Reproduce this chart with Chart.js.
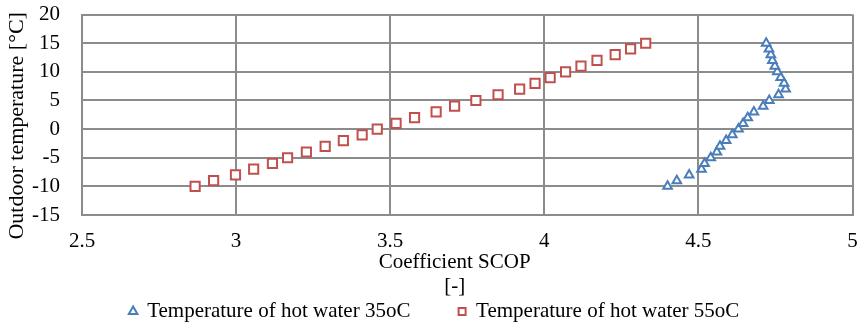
<!DOCTYPE html>
<html>
<head>
<meta charset="utf-8">
<script src="https://cdn.jsdelivr.net/npm/chart.js@4/dist/chart.umd.min.js"></script>
<style>
  html, body { margin: 0; padding: 0; background: #fff; }
  #wrap { width: 861px; height: 326px; }
</style>
</head>
<body>
<div id="wrap"><canvas id="myChart" width="861" height="326"></canvas></div>
<script>
// outdoor temperatures, same for both series
const temps = [-10, -9, -8, -7, -6, -5, -4, -3, -2, -1, 0, 1, 2, 3, 4, 5, 6, 7, 8, 9, 10, 11, 12, 13, 14, 15];
const scop35 = [4.40, 4.43, 4.47, 4.51, 4.52, 4.54, 4.56, 4.57, 4.59, 4.61, 4.63, 4.645, 4.66, 4.68, 4.71, 4.73, 4.76, 4.783, 4.778, 4.767, 4.756, 4.748, 4.74, 4.735, 4.729, 4.72];
const scop55 = [2.867, 2.927, 2.998, 3.057, 3.118, 3.167, 3.228, 3.289, 3.348, 3.409, 3.458, 3.519, 3.579, 3.649, 3.709, 3.778, 3.85, 3.92, 3.97, 4.019, 4.069, 4.119, 4.171, 4.23, 4.28, 4.329];
const labels = ['Temperature of hot water 35oC', 'Temperature of hot water 55oC'];
const xRange = [2.5, 5, 0.5];   // min, max, step
const yRange = [-15, 20, 5];

const serif = 'Liberation Serif, Times New Roman, serif';
const fontSize = 21;
const gridColor = '#8c8c8c';

const toPoints = (xs) => xs.map((x, i) => ({ x: x, y: temps[i] }));

const ctx = document.getElementById('myChart').getContext('2d');
const myChart = new Chart(ctx, {
    type: 'scatter',
    data: {
        datasets: [{
            label: labels[0],
            data: toPoints(scop35),
            pointStyle: 'triangle',
            pointRadius: 5,
            pointHoverRadius: 5,
            backgroundColor: '#ffffff',
            borderColor: '#4a7ebb',
            borderWidth: 2
        }, {
            label: labels[1],
            data: toPoints(scop55),
            pointStyle: 'rect',
            pointRadius: 6.5,
            pointHoverRadius: 6.5,
            backgroundColor: '#ffffff',
            borderColor: '#c0504d',
            borderWidth: 2
        }]
    },
    options: {
        responsive: false,
        animation: false,
        layout: {
            // left padding shifts the legend right; the y axis width below compensates
            padding: { left: 16, right: 8, top: 14, bottom: -6 }
        },
        scales: {
            x: {
                min: xRange[0],
                max: xRange[1],
                afterFit: (s) => { s.height = 84; },
                border: { display: true, color: gridColor, width: 2 },
                // invisible tick marks push the labels down without inflating layout padding
                grid: { color: gridColor, lineWidth: 2, drawTicks: true, tickLength: 12, tickColor: 'rgba(0,0,0,0)' },
                ticks: {
                    stepSize: xRange[2],
                    autoSkip: false,
                    maxRotation: 0,
                    padding: 2,
                    color: '#000',
                    font: { family: serif, size: fontSize },
                    callback: (v) => String(v)
                },
                title: {
                    display: true,
                    // trailing spaces nudge the centred title a little to the left, as in the original
                    text: ['Coefficient SCOP\u2003\u2009', '[-]\u2003\u2009'],
                    color: '#000',
                    padding: { top: 0, bottom: 0 },
                    font: { family: serif, size: fontSize, lineHeight: 1.15 }
                }
            },
            y: {
                min: yRange[0],
                max: yRange[1],
                afterFit: (s) => { s.width = 66; },
                border: { display: true, color: gridColor, width: 2 },
                grid: { color: gridColor, lineWidth: 2, drawTicks: true, tickLength: 20, tickColor: 'rgba(0,0,0,0)' },
                ticks: {
                    stepSize: yRange[2],
                    autoSkip: false,
                    padding: 2,
                    color: '#000',
                    font: { family: serif, size: fontSize },
                    callback: (v) => String(v)
                },
                title: {
                    display: true,
                    text: 'Outdoor temperature [°C]\u2003',
                    color: '#000',
                    padding: { top: -12, bottom: 0 },
                    font: { family: serif, size: 22 }
                }
            }
        },
        plugins: {
            tooltip: { enabled: false },
            legend: {
                position: 'bottom',
                labels: {
                    usePointStyle: true,
                    boxWidth: 7,
                    boxHeight: 7,
                    padding: 2,
                    color: '#000',
                    font: { family: serif, size: fontSize },
                    generateLabels: (chart) => {
                        const items = Chart.defaults.plugins.legend.labels.generateLabels(chart);
                        items[0].text = items[0].text + '\u2003\u2003\u2009';
                        return items;
                    }
                }
            }
        }
    }
});
</script>
</body>
</html>
